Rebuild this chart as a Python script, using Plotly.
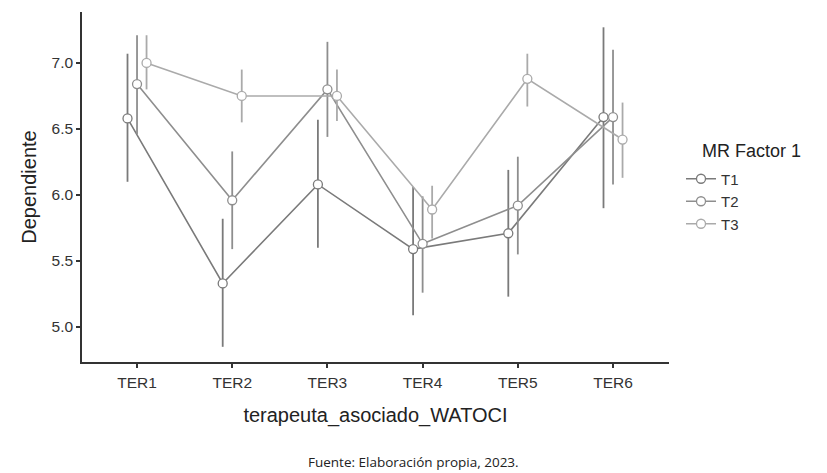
import plotly.graph_objects as go

categories = ["TER1", "TER2", "TER3", "TER4", "TER5", "TER6"]
series_names = ["T1", "T2", "T3"]

t1_mean = [6.58, 5.33, 6.08, 5.59, 5.71, 6.59]
t1_lower = [6.10, 4.85, 5.60, 5.09, 5.23, 5.90]
t1_upper = [7.07, 5.82, 6.57, 6.06, 6.19, 7.27]

t2_mean = [6.84, 5.96, 6.80, 5.63, 5.92, 6.59]
t2_lower = [6.46, 5.59, 6.44, 5.26, 5.55, 6.08]
t2_upper = [7.21, 6.33, 7.16, 5.99, 6.29, 7.10]

t3_mean = [7.00, 6.75, 6.75, 5.89, 6.88, 6.42]
t3_lower = [6.80, 6.55, 6.56, 5.67, 6.67, 6.13]
t3_upper = [7.21, 6.95, 6.95, 6.07, 7.07, 6.70]

y_ticks = [5.0, 5.5, 6.0, 6.5, 7.0]

means = [t1_mean, t2_mean, t3_mean]
lowers = [t1_lower, t2_lower, t3_lower]
uppers = [t1_upper, t2_upper, t3_upper]
colors = ["#7a7a7a", "#8e8e8e", "#aaaaaa"]
dodge = [-0.1, 0.0, 0.1]

fig = go.Figure()
for name, m, lo, up, col, d in zip(series_names, means, lowers, uppers, colors, dodge):
    xs = [i + d for i in range(len(categories))]
    fig.add_trace(go.Scatter(
        x=xs, y=m, name=name, mode="lines+markers",
        line=dict(color=col, width=1.6),
        marker=dict(size=9, color="white", line=dict(color=col, width=1.3)),
        error_y=dict(type="data", symmetric=False,
                     array=[u - v for u, v in zip(up, m)],
                     arrayminus=[v - l for v, l in zip(m, lo)],
                     color=col, thickness=1.8, width=0),
    ))

axis_font = dict(family="Liberation Sans, Arial, sans-serif", size=15.5, color="#333333")
fig.update_layout(
    width=827, height=473,
    margin=dict(l=82, r=158, t=12, b=111, autoexpand=False),
    paper_bgcolor="white", plot_bgcolor="white",
    font=dict(family="Liberation Sans, Arial, sans-serif", color="#222222"),
    showlegend=True,
    legend=dict(x=(681 - 82) / 587, xanchor="left", y=0.57, yanchor="top",
                font=dict(size=15, color="#333333"), itemwidth=30,
                bgcolor="rgba(0,0,0,0)", tracegroupgap=0),
    xaxis=dict(range=[-0.578, 5.588], tickvals=list(range(len(categories))),
               ticktext=categories, showgrid=False, zeroline=False,
               showline=True, linecolor="#333333", linewidth=1.5,
               ticks="outside", ticklen=4, tickcolor="#333333", tickwidth=1.5,
               tickfont=axis_font, ticklabelstandoff=2,
               title=dict(text="terapeuta_asociado_WATOCI",
                          font=dict(size=20, color="#222222"), standoff=18)),
    yaxis=dict(range=[4.735, 7.386], tickvals=y_ticks,
               ticktext=[f"{v:.1f}" for v in y_ticks], showgrid=False, zeroline=False,
               showline=True, linecolor="#333333", linewidth=1.5,
               ticks="outside", ticklen=4, tickcolor="#333333", tickwidth=1.5,
               tickfont=axis_font,
               title=dict(text="Dependiente",
                          font=dict(size=20, color="#222222"), standoff=10)),
    annotations=[
        dict(text="MR Factor 1", x=(700 - 82) / 587, xref="paper", y=0.603, yref="paper",
             showarrow=False, xanchor="left", yanchor="middle",
             font=dict(size=18, color="#222222")),
        dict(text="Fuente: Elaboración propia, 2023.", x=0.564, xref="paper",
             y=-0.286, yref="paper", showarrow=False, xanchor="center",
             yanchor="middle", font=dict(family="Open Sans, sans-serif", size=13.5,
                                         color="#222222")),
    ],
)

fig.write_html("out.html", config={"displayModeBar": False},
               post_script="document.body.style.margin='0';document.body.style.overflow='hidden';")
